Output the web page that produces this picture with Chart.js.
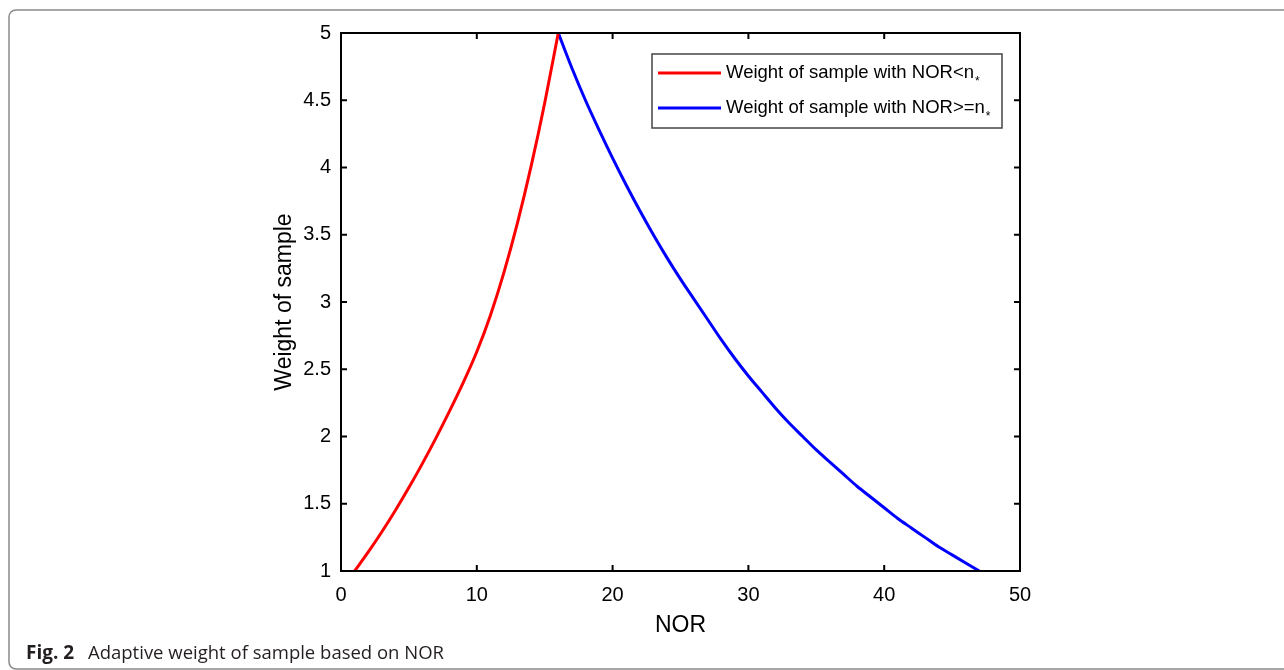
<!DOCTYPE html>
<html>
<head>
<meta charset="utf-8">
<script src="https://cdn.jsdelivr.net/npm/chart.js@4/dist/chart.umd.min.js"></script>
<style>
  html, body { margin: 0; padding: 0; background: #fff; }
  canvas { display: block; }
</style>
</head>
<body>
<canvas id="weightChart" width="1284" height="670"></canvas>
<script>
// values
const norLow = [1, 2, 3, 4, 5, 6, 7, 8, 9, 10, 11, 12, 13, 14, 15, 16];
const weightLow = [1.00, 1.14, 1.29, 1.45, 1.62, 1.80, 1.99, 2.19, 2.40, 2.63, 2.90, 3.22, 3.59, 4.01, 4.48, 5.00];

const norHigh = [16, 17, 18, 19, 20, 21, 22, 23, 24, 25, 26, 27, 28, 29, 30, 31,
  32, 33, 34, 35, 36, 37, 38, 39, 40, 41, 42, 43, 44, 45, 46, 47];
const weightHigh = [5.00, 4.74, 4.50, 4.28, 4.07, 3.87, 3.68, 3.50, 3.33, 3.17, 3.02, 2.87, 2.72, 2.58, 2.45, 2.33,
  2.21, 2.10, 2.00, 1.90, 1.81, 1.72, 1.63, 1.55, 1.47, 1.39, 1.32, 1.25, 1.18, 1.12, 1.06, 1.00];

const xTicks = [0, 10, 20, 30, 40, 50];
const yTicks = [1, 1.5, 2, 2.5, 3, 3.5, 4, 4.5, 5];

const seriesLabels = ['Weight of sample with NOR<n', 'Weight of sample with NOR>=n'];
const seriesColors = ['#ff0000', '#0000ff'];

const captionBold = 'Fig. 2';
const captionText = 'Adaptive weight of sample based on NOR';

const axisFont = "'Liberation Sans', Arial, sans-serif";

// box, inward ticks on all four sides, legend and the page frame
const matlabBox = {
  id: 'matlabBox',
  beforeDraw(chart) {
    const ctx = chart.ctx;
    ctx.save();
    ctx.fillStyle = '#fff';
    ctx.fillRect(0, 0, chart.width, chart.height);
    // frame round the figure
    ctx.strokeStyle = '#8a8a8a';
    ctx.lineWidth = 1.5;
    ctx.beginPath();
    ctx.roundRect(9, 10, 1300, 659, 7);
    ctx.stroke();
    // caption
    ctx.fillStyle = '#231f20';
    ctx.textBaseline = 'alphabetic';
    ctx.font = "bold 19px 'Open Sans', sans-serif";
    ctx.fillText(captionBold, 26, 659);
    ctx.font = "18.5px 'Open Sans', sans-serif";
    ctx.fillText(captionText, 88, 659);
    ctx.restore();
  },
  afterDatasetsDraw(chart) {
    const ctx = chart.ctx;
    const a = chart.chartArea;
    const xs = chart.scales.x, ys = chart.scales.y;
    const tl = 6;
    ctx.save();
    ctx.strokeStyle = '#000';
    ctx.lineWidth = 2;
    ctx.beginPath();
    xTicks.forEach(v => {
      const px = xs.getPixelForValue(v);
      ctx.moveTo(px, a.bottom); ctx.lineTo(px, a.bottom - tl);
      ctx.moveTo(px, a.top); ctx.lineTo(px, a.top + tl);
    });
    yTicks.forEach(v => {
      const py = ys.getPixelForValue(v);
      ctx.moveTo(a.left, py); ctx.lineTo(a.left + tl, py);
      ctx.moveTo(a.right, py); ctx.lineTo(a.right - tl, py);
    });
    ctx.stroke();
    ctx.strokeRect(a.left, a.top, a.right - a.left, a.bottom - a.top);

    // legend
    const lx = 652, ly = 54, lw = 350, lh = 74;
    ctx.fillStyle = '#fff';
    ctx.fillRect(lx, ly, lw, lh);
    ctx.strokeStyle = '#444';
    ctx.lineWidth = 1.5;
    ctx.strokeRect(lx, ly, lw, lh);
    const rows = [73, 108];
    chart.data.datasets.forEach((ds, i) => {
      const y = rows[i];
      ctx.strokeStyle = ds.borderColor;
      ctx.lineWidth = 3;
      ctx.beginPath();
      ctx.moveTo(658, y); ctx.lineTo(721, y);
      ctx.stroke();
      ctx.fillStyle = '#000';
      ctx.font = '18.5px ' + axisFont;
      ctx.textBaseline = 'alphabetic';
      ctx.fillText(ds.label, 726, y + 5);
      const w = ctx.measureText(ds.label).width;
      ctx.font = '12px ' + axisFont;
      ctx.fillText('*', 726 + w + 1, y + 12);
    });
    ctx.restore();
  }
};

new Chart(document.getElementById('weightChart').getContext('2d'), {
  type: 'line',
  data: {
    datasets: [{
      label: seriesLabels[0],
      data: norLow.map((n, i) => ({ x: n, y: weightLow[i] })),
      borderColor: seriesColors[0],
      borderWidth: 3,
      pointRadius: 0,
      cubicInterpolationMode: 'monotone',
      fill: false,
    }, {
      label: seriesLabels[1],
      data: norHigh.map((n, i) => ({ x: n, y: weightHigh[i] })),
      borderColor: seriesColors[1],
      borderWidth: 3,
      pointRadius: 0,
      cubicInterpolationMode: 'monotone',
      fill: false,
    }],
  },
  options: {
    responsive: false,
    animation: false,
    layout: { padding: { left: 0, top: 33, right: 264, bottom: 0 } },
    plugins: { legend: { display: false }, tooltip: { enabled: false } },
    scales: {
      x: {
        type: 'linear',
        min: 0,
        max: 50,
        afterBuildTicks: s => { s.ticks = xTicks.map(v => ({ value: v })); },
        afterFit: s => { s.height = 99; },
        grid: { display: false },
        border: { display: false },
        ticks: { color: '#000', padding: 4, font: { family: axisFont, size: 20 }, callback: v => String(v) },
        title: {
          display: true, text: 'NOR', color: '#000',
          font: { family: axisFont, size: 23 },
          padding: { top: 0, bottom: 31 },
        },
      },
      y: {
        type: 'linear',
        min: 1,
        max: 5,
        afterBuildTicks: s => { s.ticks = yTicks.map(v => ({ value: v })); },
        afterFit: s => { s.width = 341; },
        grid: { display: false },
        border: { display: false },
        ticks: { color: '#000', padding: 2, font: { family: axisFont, size: 20 }, callback: v => String(v) },
        title: {
          display: true, text: 'Weight of sample', color: '#000',
          font: { family: axisFont, size: 23 },
          padding: { top: 271, bottom: 0 },
        },
      },
    },
  },
  plugins: [matlabBox],
});
</script>
</body>
</html>
